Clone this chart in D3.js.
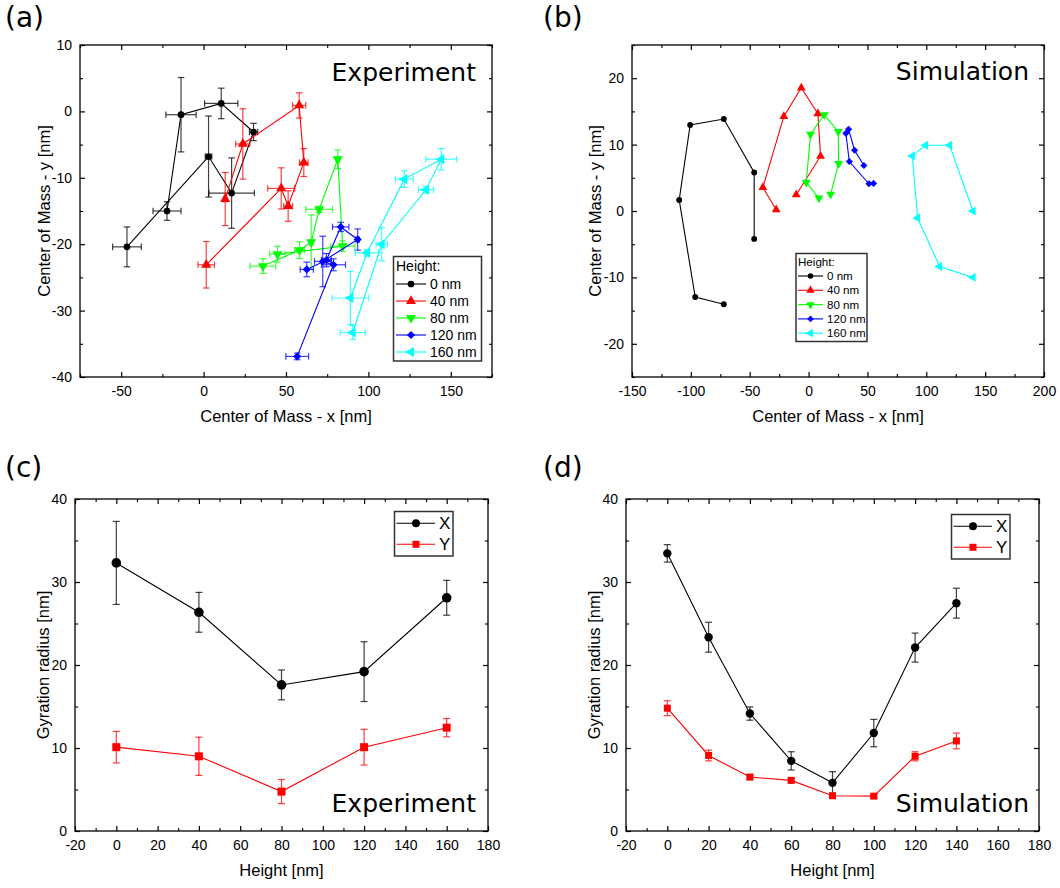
<!DOCTYPE html>
<html>
<head>
<meta charset="utf-8">
<script src="https://cdn.jsdelivr.net/npm/d3@7"></script>
<style>
  body { margin: 0; background: #fff; }
  svg { display: block; }
  text { font-family: "Liberation Sans", Arial, sans-serif; fill: #000; }
  .tag { font-family: "DejaVu Sans", Verdana, sans-serif; }
</style>
</head>
<body>
<svg id="chart" width="1060" height="888"></svg>
<script>
///////////////////////////////////////////////////////////////////////////////
// Data

var heightNames = ["0 nm", "40 nm", "80 nm", "120 nm", "160 nm"];
var seriesColors = ["#000000", "#ff0000", "#00ff00", "#0000ff", "#00ffff"];

// (a) experiment, center of mass per step: [x, y, xErr, yErr]
var expCom0 = [[-46.5, -20.4, 8.7, 3.0], [3.0, -6.8, 2, 6.1], [17, -12.3, 13.8, 5.3],
  [30.3, -3.1, 2.5, 1.3], [10.7, 1.2, 10.1, 2.3], [-13.7, -0.5, 9.2, 5.6], [-22.2, -15.0, 8.5, 1.4]];
var expCom40 = [[1.6, -23.1, 5, 3.5], [47.1, -11.6, 8.2, 3.1], [51.3, -14.25, 2.7, 2.3],
  [60.8, -7.7, 2.6, 2.1], [58, 0.9, 4, 1.9], [23.8, -4.9, 4.3, 5.3], [13.1, -13.2, 1, 4]];
var expCom80 = [[44.8, -21.5, 4.7, 1.2], [84.4, -20.3, 7.4, 0.8], [81.4, -7.2, 1, 1.4],
  [70.1, -14.75, 8.1, 0.5], [65.3, -19.7, 1, 4.1], [58.2, -20.9, 3, 1.25], [36, -23.3, 7.8, 1.1]];
var expCom120 = [[56.8, -36.9, 6.9, 0.5], [78.8, -23.1, 7.3, 0.9], [72.3, -22.6, 5, 3.8],
  [93.5, -19.3, 1, 1.6], [83.2, -17.4, 5, 0.7], [74.5, -22.4, 3, 1], [62.6, -23.8, 4, 1.1]];
var expCom160 = [[90.5, -33.3, 7.6, 1.05], [108.1, -20, 3.4, 2.5], [134.9, -11.8, 4.6, 0.5],
  [144.2, -7.2, 9.4, 1.6], [121.8, -10.2, 5.4, 1.25], [99.2, -21.3, 7.1, 0.5], [89.1, -28.1, 11.1, 4.0]];

// (b) simulation, center of mass per step: [x, y]
var simCom0 = [[-72, -14.05], [-96.3, -12.95], [-109.9, 1.65], [-100.6, 12.95],
  [-72, 13.85], [-46.2, 5.8], [-46.2, -4.2]];
var simCom40 = [[-27.5, 0.2], [-38.8, 3.55], [-21, 14.25], [-6.2, 18.55],
  [7.9, 14.65], [10.2, 8.25], [-10.5, 2.45]];
var simCom80 = [[8.8, 1.95], [-2, 4.3], [1.7, 11.55], [13.3, 14.5],
  [25.2, 11.95], [25.5, 7.15], [18.7, 2.5]];
var simCom120 = [[55.2, 4.15], [51.3, 4.1], [34.6, 7.45], [31.7, 11.7],
  [34, 12.3], [39.1, 9.15], [47, 6.85]];
var simCom160 = [[139.7, -10], [111.3, -8.35], [92.6, -1.05], [88.1, 8.3],
  [99.4, 9.9], [119.8, 9.9], [139.7, 0]];

// (c) experiment gyration radius
var expHeights = [0, 40, 80, 120, 160];
var expGyrX = [32.3, 26.35, 17.6, 19.2, 28.1];
var expGyrXErr = [5.0, 2.4, 1.8, 3.6, 2.1];
var expGyrY = [10.1, 9.0, 4.75, 10.1, 12.45];
var expGyrYErr = [1.9, 2.3, 1.45, 2.15, 1.1];

// (d) simulation gyration radius
var simHeights = [0, 20, 40, 60, 80, 100, 120, 140];
var simGyrX = [33.45, 23.35, 14.15, 8.45, 5.8, 11.8, 22.1, 27.45];
var simGyrXErr = [1.05, 1.8, 0.8, 1.1, 1.35, 1.65, 1.75, 1.8];
var simGyrY = [14.8, 9.1, 6.5, 6.1, 4.25, 4.2, 9.0, 10.85];
var simGyrYErr = [0.9, 0.65, 0.3, 0.3, 0.3, 0.2, 0.55, 0.95];

var expCom = [expCom0, expCom40, expCom80, expCom120, expCom160];
var simCom = [simCom0, simCom40, simCom80, simCom120, simCom160];

///////////////////////////////////////////////////////////////////////////////
// Helpers

var svg = d3.select("#chart");

var shapes = [
  {type: d3.symbolCircle, rot: 0, k: 0.8},
  {type: d3.symbolTriangle, rot: 0, k: 1},
  {type: d3.symbolTriangle, rot: 180, k: 1},
  {type: d3.symbolSquare, rot: 45, k: 0.75},
  {type: d3.symbolTriangle, rot: -90, k: 1}
];

var marker = function (g, i, cx, cy, size, color) {
  var s = shapes[i];
  g.append("path")
    .attr("d", d3.symbol().type(s.type).size(size * s.k)())
    .attr("transform", "translate(" + cx + "," + cy + ") rotate(" + s.rot + ")")
    .attr("fill", color);
};

// multiples of step inside [lo, hi]
var multiples = function (lo, hi, step) {
  var out = [];
  for (var k = Math.ceil(lo / step - 1e-9); k * step <= hi + 1e-9; k++) out.push(k * step);
  return out;
};

// Frame with inward major/minor ticks on all four sides (Origin style)
var panel = function (o) {
  var p = {
    left: o.left, top: o.top, width: o.width, height: o.height,
    g: svg.append("g")
  };
  p.right = o.left + o.width;
  p.bottom = o.top + o.height;
  p.x = d3.scaleLinear().domain(o.xDomain).range([p.left, p.right]);
  p.y = d3.scaleLinear().domain(o.yDomain).range([p.bottom, p.top]);

  var xMajor = multiples(o.xDomain[0], o.xDomain[1], o.xStep);
  var xMinor = multiples(o.xDomain[0], o.xDomain[1], o.xStep / 2).filter(function (v) {
    return xMajor.indexOf(v) < 0;
  });
  var yMajor = multiples(o.yDomain[0], o.yDomain[1], o.yStep);
  var yMinor = multiples(o.yDomain[0], o.yDomain[1], o.yStep / 2).filter(function (v) {
    return yMajor.indexOf(v) < 0;
  });
  var fmt = function (d) { return String(d); };

  var sides = [
    [d3.axisBottom, p.x, "translate(0," + p.bottom + ")", xMajor, xMinor, true],
    [d3.axisTop, p.x, "translate(0," + p.top + ")", xMajor, xMinor, false],
    [d3.axisLeft, p.y, "translate(" + p.left + ",0)", yMajor, yMinor, true],
    [d3.axisRight, p.y, "translate(" + p.right + ",0)", yMajor, yMinor, false]
  ];
  sides.forEach(function (s) {
    var isX = s[1] === p.x;
    var ga = p.g.append("g").attr("transform", s[2])
      .call(s[0](s[1]).tickValues(s[3]).tickSize(-5).tickPadding(isX ? 9 : 8)
        .tickFormat(s[5] ? fmt : ""));
    ga.selectAll(".domain").remove();
    ga.attr("font-size", 14).attr("font-family", "Liberation Sans, Arial, sans-serif");
    ga.selectAll("line").attr("stroke-width", 1.2);
    var gm = p.g.append("g").attr("transform", s[2])
      .call(s[0](s[1]).tickValues(s[4]).tickSize(-3).tickFormat(""));
    gm.selectAll(".domain").remove();
    gm.selectAll("line").attr("stroke-width", 1.1);
  });

  p.g.append("rect")
    .attr("x", p.left).attr("y", p.top)
    .attr("width", p.width).attr("height", p.height)
    .attr("fill", "none").attr("stroke", "#000").attr("stroke-width", 1.3);

  p.g.append("text")
    .attr("x", p.left + p.width / 2).attr("y", p.bottom + 45)
    .attr("text-anchor", "middle").attr("font-size", 16.5)
    .text(o.xTitle);
  p.g.append("text")
    .attr("transform", "translate(" + (p.left - o.yTitleGap) + "," + (p.top + p.height / 2) + ") rotate(-90)")
    .attr("text-anchor", "middle").attr("font-size", 16.5)
    .text(o.yTitle);
  return p;
};

var tag = function (x, y, s, size, anchor) {
  svg.append("text").attr("class", "tag")
    .attr("x", x).attr("y", y)
    .attr("font-size", size)
    .attr("text-anchor", anchor || "start")
    .text(s);
};

var errBars = function (g, color, cx, cy, x0, x1, y0, y1, cap) {
  var eg = g.append("g").attr("stroke", color).attr("stroke-opacity", 0.75).attr("stroke-width", 1.2);
  if (y0 !== null) {
    eg.append("line").attr("x1", cx).attr("x2", cx).attr("y1", y0).attr("y2", y1);
    eg.append("line").attr("x1", cx - cap).attr("x2", cx + cap).attr("y1", y0).attr("y2", y0);
    eg.append("line").attr("x1", cx - cap).attr("x2", cx + cap).attr("y1", y1).attr("y2", y1);
  }
  if (x0 !== null) {
    eg.append("line").attr("y1", cy).attr("y2", cy).attr("x1", x0).attr("x2", x1);
    eg.append("line").attr("y1", cy - cap).attr("y2", cy + cap).attr("x1", x0).attr("x2", x0);
    eg.append("line").attr("y1", cy - cap).attr("y2", cy + cap).attr("x1", x1).attr("x2", x1);
  }
};

var lineGen = function (p, fx, fy) {
  return d3.line().x(function (d) { return p.x(fx(d)); }).y(function (d) { return p.y(fy(d)); });
};

///////////////////////////////////////////////////////////////////////////////
// (a) Experiment, center of mass

var pa = panel({
  left: 80, top: 45, width: 412, height: 332,
  xDomain: [-75, 175], xStep: 50,
  yDomain: [-40, 10], yStep: 10,
  xTitle: "Center of Mass - x [nm]", yTitle: "Center of Mass - y [nm]", yTitleGap: 30
});

expCom.forEach(function (pts, i) {
  var c = seriesColors[i];
  var g = pa.g.append("g");
  g.append("path").datum(pts)
    .attr("d", lineGen(pa, function (d) { return d[0]; }, function (d) { return d[1]; }))
    .attr("fill", "none").attr("stroke", c).attr("stroke-width", 1.1);
  pts.forEach(function (d) {
    errBars(g, c, pa.x(d[0]), pa.y(d[1]),
      pa.x(d[0] - d[2]), pa.x(d[0] + d[2]),
      pa.y(d[1] + d[3]), pa.y(d[1] - d[3]), 3.3);
  });
  pts.forEach(function (d) { marker(g, i, pa.x(d[0]), pa.y(d[1]), 44, c); });
});

// legend (a)
var la = svg.append("g");
la.append("rect").attr("x", 393.5).attr("y", 256.5).attr("width", 88).attr("height", 104.5)
  .attr("fill", "#fff").attr("stroke", "#333").attr("stroke-width", 1.5);
la.append("text").attr("x", 396).attr("y", 266).attr("dy", "0.35em").attr("font-size", 14).text("Height:");
heightNames.forEach(function (name, i) {
  var yy = 284 + i * 17;
  la.append("line").attr("x1", 396).attr("x2", 426).attr("y1", yy).attr("y2", yy)
    .attr("stroke", seriesColors[i]).attr("stroke-width", 1.1);
  marker(la, i, 411, yy, 44, seriesColors[i]);
  la.append("text").attr("x", 430).attr("y", yy).attr("dy", "0.35em").attr("font-size", 14).text(name);
});

tag(476, 80.5, "Experiment", 25, "end");

///////////////////////////////////////////////////////////////////////////////
// (b) Simulation, center of mass

var pb = panel({
  left: 632, top: 45, width: 412, height: 332,
  xDomain: [-150, 200], xStep: 50,
  yDomain: [-25, 25], yStep: 10,
  xTitle: "Center of Mass - x [nm]", yTitle: "Center of Mass - y [nm]", yTitleGap: 31
});

simCom.forEach(function (pts, i) {
  var c = seriesColors[i];
  var g = pb.g.append("g");
  g.append("path").datum(pts)
    .attr("d", lineGen(pb, function (d) { return d[0]; }, function (d) { return d[1]; }))
    .attr("fill", "none").attr("stroke", c).attr("stroke-width", 1.1);
  pts.forEach(function (d) { marker(g, i, pb.x(d[0]), pb.y(d[1]), 34, c); });
});

var lb = svg.append("g");
lb.append("rect").attr("x", 796).attr("y", 253.5).attr("width", 71).attr("height", 88)
  .attr("fill", "#fff").attr("stroke", "#333").attr("stroke-width", 1.5);
lb.append("text").attr("x", 798).attr("y", 262).attr("dy", "0.35em").attr("font-size", 11.6).text("Height:");
heightNames.forEach(function (name, i) {
  var yy = 276 + i * 14.3;
  lb.append("line").attr("x1", 798).attr("x2", 823).attr("y1", yy).attr("y2", yy)
    .attr("stroke", seriesColors[i]).attr("stroke-width", 1.1);
  marker(lb, i, 810.5, yy, 30, seriesColors[i]);
  lb.append("text").attr("x", 827).attr("y", yy).attr("dy", "0.35em").attr("font-size", 11.6).text(name);
});

tag(1029, 80, "Simulation", 25, "end");

///////////////////////////////////////////////////////////////////////////////
// (c) and (d) gyration radius

var gyrPanel = function (left, heights, gx, gxe, gy, gye, rC, sS) {
  var p = panel({
    left: left, top: 499, width: 413, height: 332,
    xDomain: [-20, 180], xStep: 20,
    yDomain: [0, 40], yStep: 10,
    xTitle: "Height [nm]", yTitle: "Gyration radius [nm]", yTitleGap: 26
  });
  var sets = [[gx, gxe, "#000000", 0], [gy, gye, "#ff0000", 3]];
  sets.forEach(function (s) {
    var g = p.g.append("g");
    var idx = d3.range(heights.length);
    g.append("path").datum(idx)
      .attr("d", lineGen(p, function (j) { return heights[j]; }, function (j) { return s[0][j]; }))
      .attr("fill", "none").attr("stroke", s[2]).attr("stroke-width", 1.1);
    idx.forEach(function (j) {
      errBars(g, s[2], p.x(heights[j]), p.y(s[0][j]), null, null,
        p.y(s[0][j] + s[1][j]), p.y(s[0][j] - s[1][j]), 3.5);
    });
    idx.forEach(function (j) {
      var cx = p.x(heights[j]), cy = p.y(s[0][j]);
      if (s[3] === 0) {
        g.append("circle").attr("cx", cx).attr("cy", cy).attr("r", rC).attr("fill", s[2]);
      } else {
        g.append("rect").attr("x", cx - sS / 2).attr("y", cy - sS / 2)
          .attr("width", sS).attr("height", sS).attr("fill", s[2]);
      }
    });
  });
  return p;
};

var gyrLegend = function (bx, by) {
  var lg = svg.append("g");
  lg.append("rect").attr("x", bx).attr("y", by).attr("width", 58.5).attr("height", 44.5)
    .attr("fill", "#fff").attr("stroke", "#333").attr("stroke-width", 1.5);
  [["X", "#000000"], ["Y", "#ff0000"]].forEach(function (e, i) {
    var yy = by + 11.8 + i * 21;
    lg.append("line").attr("x1", bx + 2).attr("x2", bx + 40.5).attr("y1", yy).attr("y2", yy)
      .attr("stroke", e[1]).attr("stroke-width", 1.1);
    if (i === 0) {
      lg.append("circle").attr("cx", bx + 21.5).attr("cy", yy).attr("r", 4).attr("fill", e[1]);
    } else {
      lg.append("rect").attr("x", bx + 18).attr("y", yy - 3.5).attr("width", 7).attr("height", 7)
        .attr("fill", e[1]);
    }
    lg.append("text").attr("x", bx + 44.5).attr("y", yy).attr("dy", "0.36em")
      .attr("font-size", 17).text(e[0]);
  });
};

gyrPanel(75, expHeights, expGyrX, expGyrXErr, expGyrY, expGyrYErr, 4.8, 8);
gyrLegend(394.5, 511.5);
tag(476, 811.7, "Experiment", 25, "end");

gyrPanel(626, simHeights, simGyrX, simGyrXErr, simGyrY, simGyrYErr, 4.2, 7);
gyrLegend(951.5, 514.5);
tag(1029, 811.7, "Simulation", 25, "end");

// panel letters
tag(5, 27, "(a)", 28);
tag(543, 27, "(b)", 28);
tag(5, 477, "(c)", 28);
tag(543, 477, "(d)", 28);
</script>
</body>
</html>
